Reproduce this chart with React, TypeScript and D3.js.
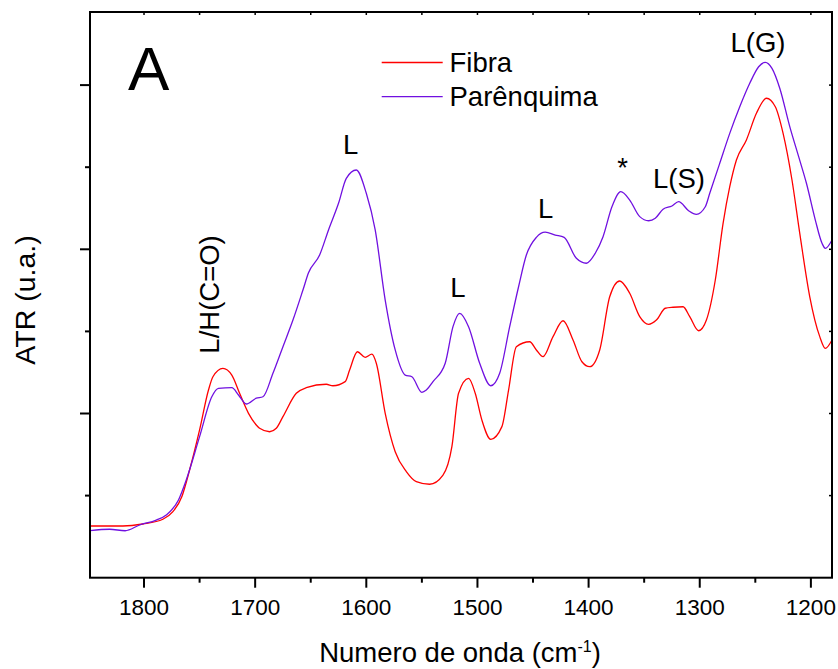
import React from 'react';
import * as d3 from 'd3';

// Wavenumber (cm-1) and ATR intensity (a.u.)
const fibraWavenumber = [1849, 1819, 1801, 1783, 1774, 1766, 1759, 1750, 1742, 1738, 1729, 1721, 1714, 1706, 1699, 1696, 1687, 1681, 1675, 1663, 1654, 1636, 1630, 1619, 1615, 1608, 1601, 1595, 1591, 1583, 1574, 1564, 1555, 1543, 1531, 1523, 1517, 1508, 1502, 1496, 1488, 1478, 1472, 1465, 1453, 1447, 1441, 1432, 1423, 1414, 1406, 1399, 1390, 1381, 1372, 1363, 1354, 1346, 1339, 1331, 1324, 1315, 1309, 1301, 1294, 1286, 1279, 1273, 1267, 1258, 1249, 1240, 1232, 1225, 1217, 1210, 1201, 1192, 1187, 1181];
const fibraIntensity = [0.315, 0.315, 0.327, 0.356, 0.402, 0.493, 0.656, 0.900, 1.143, 1.224, 1.275, 1.234, 1.123, 1.001, 0.930, 0.910, 0.889, 0.910, 0.981, 1.123, 1.157, 1.178, 1.169, 1.194, 1.265, 1.376, 1.342, 1.361, 1.306, 1.001, 0.767, 0.646, 0.585, 0.569, 0.625, 0.798, 1.123, 1.214, 1.123, 0.960, 0.843, 0.920, 1.143, 1.407, 1.437, 1.387, 1.346, 1.468, 1.565, 1.448, 1.315, 1.285, 1.387, 1.711, 1.807, 1.732, 1.590, 1.543, 1.569, 1.641, 1.647, 1.650, 1.590, 1.504, 1.569, 1.813, 2.158, 2.381, 2.544, 2.666, 2.828, 2.920, 2.868, 2.706, 2.422, 2.097, 1.711, 1.468, 1.397, 1.448];

const parenWavenumber = [1849, 1831, 1817, 1804, 1789, 1780, 1769, 1762, 1750, 1739, 1733, 1721, 1715, 1708, 1699, 1693, 1684, 1675, 1666, 1657, 1652, 1642, 1634, 1625, 1618, 1609, 1600, 1592, 1583, 1574, 1565, 1559, 1550, 1546, 1540, 1529, 1522, 1516, 1508, 1498, 1488, 1480, 1471, 1463, 1456, 1447, 1439, 1430, 1422, 1411, 1402, 1394, 1387, 1379, 1371, 1363, 1354, 1346, 1340, 1333, 1325, 1319, 1310, 1303, 1295, 1291, 1282, 1273, 1264, 1255, 1247, 1241, 1235, 1228, 1219, 1211, 1204, 1196, 1190, 1187, 1181];
const parenIntensity = [0.286, 0.295, 0.286, 0.321, 0.351, 0.382, 0.473, 0.595, 0.859, 1.102, 1.153, 1.157, 1.113, 1.058, 1.093, 1.102, 1.245, 1.407, 1.569, 1.752, 1.857, 1.965, 2.118, 2.280, 2.432, 2.483, 2.341, 2.118, 1.691, 1.387, 1.234, 1.224, 1.129, 1.143, 1.194, 1.306, 1.529, 1.610, 1.529, 1.306, 1.169, 1.245, 1.529, 1.772, 1.965, 2.073, 2.104, 2.087, 2.073, 1.945, 1.915, 1.976, 2.077, 2.259, 2.351, 2.300, 2.199, 2.174, 2.189, 2.244, 2.264, 2.290, 2.235, 2.213, 2.259, 2.341, 2.524, 2.706, 2.868, 3.011, 3.112, 3.139, 3.102, 2.981, 2.747, 2.564, 2.402, 2.178, 2.037, 2.006, 2.057];

const seriesNames = ['Fibra', 'Parênquima'];
const seriesColors = ['#ff0000', '#7010e0'];

const xMajorTicks = [1800, 1700, 1600, 1500, 1400, 1300, 1200];
const xMinorTicks = [1750, 1650, 1550, 1450, 1350, 1250];
const yMajorTicks = [1, 2, 3];
const yMinorTicks = [0.5, 1.5, 2.5];

const annotationText = ['L', 'L', 'L', '*', 'L(S)', 'L(G)'];
const annotationWn = [1614, 1517.5, 1438.6, 1369.5, 1318.7, 1247.6];
const annotationV = [2.579, 1.71, 2.189, 2.443, 2.372, 3.203];

const FONT = 'Liberation Sans, Arial, Helvetica, sans-serif';

export default function App() {
  const W = 838, H = 669;
  const left = 90, right = 832, top = 12, bottom = 577.7;
  const x = d3.scaleLinear().domain([1848.6, 1181]).range([left, right]);
  const y = d3.scaleLinear().domain([0, (bottom - top) / 164.2]).range([bottom, top]);

  const line = d3.line<[number, number]>()
    .x(d => x(d[0]))
    .y(d => y(d[1]))
    .curve(d3.curveMonotoneX);

  const fibra = fibraWavenumber.map((w, i) => [w, fibraIntensity[i]] as [number, number]);
  const paren = parenWavenumber.map((w, i) => [w, parenIntensity[i]] as [number, number]);

  return (
    <svg width={W} height={H} style={{ position: 'absolute', left: 0, top: 0, background: '#fff' }} fontFamily={FONT}>
      <rect x={0} y={0} width={W} height={H} fill="#fff" />
      <defs>
        <clipPath id="plotclip">
          <rect x={left} y={top} width={right - left} height={bottom - top} />
        </clipPath>
      </defs>
      <g clipPath="url(#plotclip)" fill="none" strokeWidth={1.3} strokeLinejoin="round">
        <path d={line(fibra) || ''} stroke={seriesColors[0]} />
        <path d={line(paren) || ''} stroke={seriesColors[1]} />
      </g>

      {/* frame */}
      <rect x={left} y={top} width={right - left} height={bottom - top} fill="none" stroke="#000" strokeWidth={2} />

      {/* x ticks */}
      {xMajorTicks.map(t => (
        <g key={'xm' + t}>
          <line x1={x(t)} x2={x(t)} y1={bottom} y2={bottom + 10} stroke="#000" strokeWidth={2} />
          <line x1={x(t)} x2={x(t)} y1={top} y2={top + 3} stroke="#000" strokeWidth={1.5} />
          <text x={x(t)} y={615} textAnchor="middle" fontSize={22.5}>{t}</text>
        </g>
      ))}
      {xMinorTicks.map(t => (
        <g key={'xn' + t}>
          <line x1={x(t)} x2={x(t)} y1={bottom} y2={bottom + 5} stroke="#000" strokeWidth={2} />
          <line x1={x(t)} x2={x(t)} y1={top} y2={top + 3} stroke="#000" strokeWidth={1.5} />
        </g>
      ))}
      {/* y ticks */}
      {yMajorTicks.map(t => (
        <g key={'ym' + t}>
          <line x1={left - 10} x2={left} y1={y(t)} y2={y(t)} stroke="#000" strokeWidth={2} />
          <line x1={right - 3} x2={right} y1={y(t)} y2={y(t)} stroke="#000" strokeWidth={1.5} />
        </g>
      ))}
      {yMinorTicks.map(t => (
        <g key={'yn' + t}>
          <line x1={left - 5} x2={left} y1={y(t)} y2={y(t)} stroke="#000" strokeWidth={2} />
          <line x1={right - 3} x2={right} y1={y(t)} y2={y(t)} stroke="#000" strokeWidth={1.5} />
        </g>
      ))}

      {/* axis titles */}
      <text x={460} y={662} textAnchor="middle" fontSize={27.5}>
        Numero de onda (cm<tspan dy={-10} fontSize={16}>-1</tspan><tspan dy={10}>)</tspan>
      </text>
      <text transform={`translate(35,300) rotate(-90)`} textAnchor="middle" fontSize={28.5}>ATR (u.a.)</text>

      {/* panel letter */}
      <text x={128} y={89.5} fontSize={62}>A</text>

      {/* legend */}
      {seriesNames.map((n, i) => (
        <g key={n}>
          <line x1={381.7} x2={442.7} y1={62.5 + i * 34.2} y2={62.5 + i * 34.2} stroke={seriesColors[i]} strokeWidth={1.3} />
          <text x={449.5} y={71.7 + i * 34.2} fontSize={27.5}>{n}</text>
        </g>
      ))}

      {/* annotations */}
      {annotationText.map((t, i) => (
        <text key={i} x={x(annotationWn[i])} y={y(annotationV[i])} textAnchor="middle" fontSize={27.5}>{t}</text>
      ))}
      <text transform={`translate(${x(1732.5)},${y(1.725)}) rotate(-90)`} textAnchor="middle" fontSize={27.5}>L/H(C=O)</text>
    </svg>
  );
}
